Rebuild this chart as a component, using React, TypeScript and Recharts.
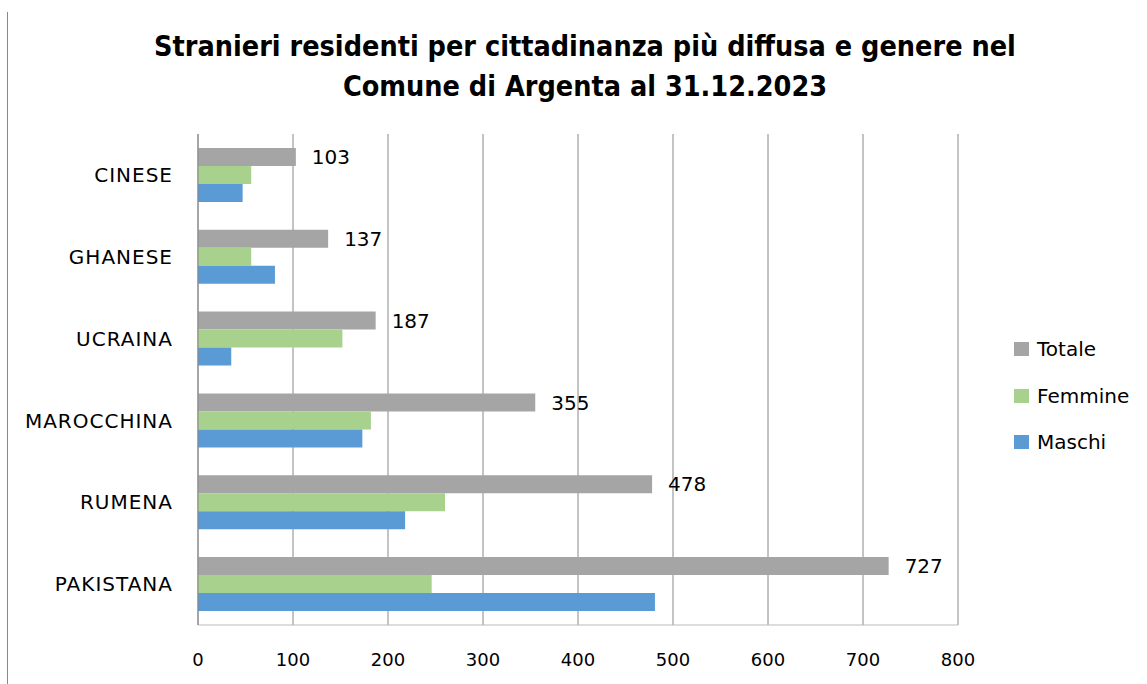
import React from "react";
import { BarChart, Bar, XAxis, YAxis, CartesianGrid, LabelList } from "recharts";

const categories = ["CINESE", "GHANESE", "UCRAINA", "MAROCCHINA", "RUMENA", "PAKISTANA"];
const totale = [103, 137, 187, 355, 478, 727];
const femmine = [56, 56, 152, 182, 260, 246];
const maschi = [47, 81, 35, 173, 218, 481];
const xTicks = [0, 100, 200, 300, 400, 500, 600, 700, 800];

const seriesNames = ["Totale", "Femmine", "Maschi"];
const colors = ["#A5A5A5", "#A9D18E", "#5B9BD5"];

const data = categories.map((name, i) => ({
  name,
  Totale: totale[i],
  Femmine: femmine[i],
  Maschi: maschi[i],
}));

const FONT = "'DejaVu Sans', sans-serif";

export default function App() {
  return (
    <div style={{ position: "absolute", left: 0, top: 0, width: 1147, height: 684, background: "#fff", fontFamily: FONT }}>
      <div style={{ position: "absolute", left: 7, top: 12, width: 0, height: 672, borderLeft: "1px solid #888" }} />
      <div
        style={{
          position: "absolute",
          left: 0,
          top: 27,
          width: 1170,
          textAlign: "center",
          fontFamily: "'DejaVu Sans Condensed', 'DejaVu Sans', sans-serif",
          fontWeight: "bold",
          fontSize: 28.5,
          lineHeight: "40px",
          color: "#000",
        }}
      >
        Stranieri residenti per cittadinanza più diffusa e genere nel
        <br />
        Comune di Argenta al 31.12.2023
      </div>
      <div style={{ position: "absolute", left: 0, top: 0 }}>
        <BarChart
          width={1147}
          height={684}
          data={data}
          layout="vertical"
          margin={{ top: 134, right: 189, bottom: 0, left: 0 }}
          barGap={0}
          barCategoryGap="17%"
        >
          <CartesianGrid horizontal={false} vertical={true} stroke="#888" strokeWidth={1} />
          <XAxis
            type="number"
            domain={[0, 800]}
            ticks={xTicks}
            interval={0}
            height={59}
            tickLine={false}
            tickSize={0}
            tickMargin={28}
            axisLine={{ stroke: "#BBB" }}
            tick={{ fontSize: 18, fill: "#000", fontFamily: FONT }}
          />
          <YAxis
            type="category"
            dataKey="name"
            width={198}
            tickLine={false}
            tickSize={0}
            tickMargin={25}
            axisLine={{ stroke: "#888" }}
            tick={{ fontSize: 20, fill: "#000", fontFamily: FONT, letterSpacing: 1 }}
          />
          {seriesNames.map((s, i) => (
            <Bar key={s} dataKey={s} fill={colors[i]} isAnimationActive={false}>
              {s === "Totale" ? (
                <LabelList dataKey="Totale" position="right" offset={16} style={{ fontSize: 20, fill: "#000", fontFamily: FONT }} />
              ) : null}
            </Bar>
          ))}
        </BarChart>
      </div>
      {seriesNames.map((s, i) => (
        <div key={s} style={{ position: "absolute", left: 1014, top: 349 + i * 46.5 - 12, height: 24, display: "flex", alignItems: "center" }}>
          <div style={{ width: 15, height: 14, background: colors[i], marginRight: 8 }} />
          <span style={{ fontSize: 20, color: "#000", fontFamily: FONT }}>{s}</span>
        </div>
      ))}
    </div>
  );
}
